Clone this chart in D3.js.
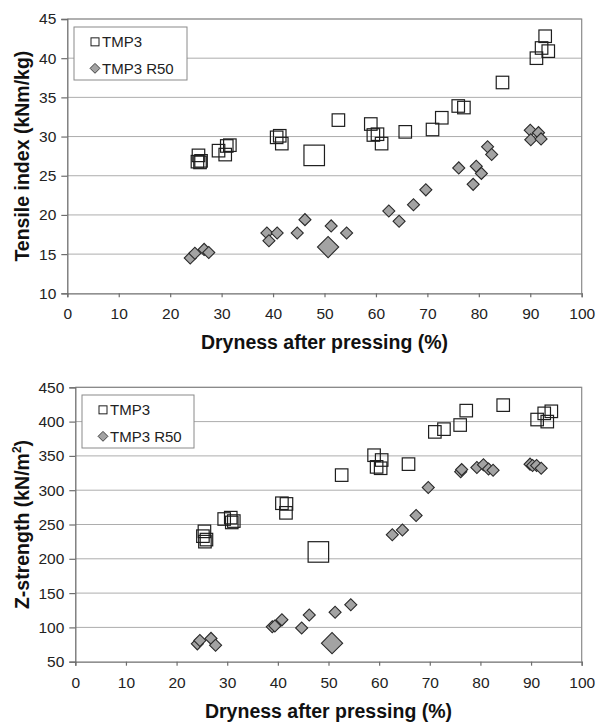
<!DOCTYPE html>
<html>
<head>
<meta charset="utf-8">
<script src="https://cdn.jsdelivr.net/npm/d3@7"></script>
<style>
  html, body { margin: 0; padding: 0; background: #fff; }
  svg { display: block; font-family: "Liberation Sans", Arial, sans-serif; }
</style>
</head>
<body>
<svg id="chart" width="596" height="723"></svg>
<script>
// Dryness after pressing (%) vs. tensile index and Z-strength, TMP3 and TMP3 R50 pulps.

// TMP3 samples: dryness, tensile index, Z-strength
const tmp3Dryness = [25.3, 25.5, 25.8, 26.0, 29.4, 30.7, 31.0, 31.6, 40.7, 41.3, 41.7, 52.7, 59.0, 59.5, 60.3, 61.1, 65.7, 71.0, 72.8, 76.0, 77.1, 84.6, 91.2, 92.2, 92.9, 93.5];
const tmp3Tensile = [26.8, 27.6, 26.7, 26.9, 28.2, 27.7, 28.8, 28.9, 29.9, 30.1, 29.1, 32.1, 31.6, 30.2, 30.3, 29.1, 30.6, 30.9, 32.4, 33.9, 33.7, 36.9, 40.0, 41.3, 42.8, 40.9];
const tmp3ZDryness = [25.2, 25.5, 25.6, 25.9, 29.4, 30.7, 31.3, 30.9, 40.8, 41.7, 41.6, 52.6, 59.0, 59.5, 60.5, 60.3, 65.8, 71.0, 72.8, 76.0, 77.2, 84.5, 91.2, 92.6, 94.0, 93.2];
const tmp3ZStrength = [233, 240, 225, 228, 258, 260, 255, 253, 281, 280, 267, 322, 351, 334, 344, 332, 338, 385, 389, 395, 416, 424, 403, 412, 415, 400];

// TMP3 reference point (large marker)
const tmp3RefDryness = [48.0];
const tmp3RefTensile = [27.6];
const tmp3RefZ = [210];

// TMP3 R50 samples
const r50Dryness = [23.9, 24.8, 26.6, 27.5, 38.8, 39.2, 40.8, 44.7, 46.2, 51.3, 54.3, 62.5, 64.5, 67.3, 69.7, 76.1, 78.9, 79.5, 80.5, 81.7, 82.5, 90.0, 90.1, 91.6, 92.1];
const r50Tensile = [14.5, 15.1, 15.6, 15.2, 17.7, 16.7, 17.7, 17.7, 19.4, 18.6, 17.7, 20.5, 19.2, 21.3, 23.2, 26.0, 23.9, 26.2, 25.3, 28.7, 27.7, 30.8, 29.6, 30.5, 29.7];
const r50ZDryness = [24.1, 24.6, 26.8, 27.7, 38.9, 39.4, 40.8, 44.7, 46.2, 51.3, 54.4, 62.6, 64.6, 67.3, 69.7, 76.1, 76.3, 79.3, 80.6, 81.6, 82.5, 89.8, 90.3, 91.1, 92.0];
const r50ZStrength = [76, 81, 84, 74, 101, 102, 111, 99, 118, 122, 133, 235, 242, 263, 304, 327, 330, 333, 337, 331, 329, 338, 336, 336, 332];

// TMP3 R50 reference point (large marker)
const r50RefDryness = [50.7];
const r50RefTensile = [15.9];
const r50RefZ = [77];

const xTicks = [0, 10, 20, 30, 40, 50, 60, 70, 80, 90, 100];
const tensileTicks = [10, 15, 20, 25, 30, 35, 40, 45];
const zTicks = [50, 100, 150, 200, 250, 300, 350, 400, 450];
const seriesNames = ["TMP3", "TMP3 R50"];

const svg = d3.select("#chart");

function drawPanel(cfg) {
  const { left, right, top, bottom, yDomain, yTicks, yTitle, superscript, tmp3, tmp3Ref, r50, r50Ref, legend } = cfg;
  const g = svg.append("g");
  const x = d3.scaleLinear().domain([0, 100]).range([left, right]);
  const y = d3.scaleLinear().domain(yDomain).range([bottom, top]);

  // grid lines
  g.append("g").selectAll("line")
    .data(yTicks.slice(1))
    .join("line")
    .attr("x1", left).attr("x2", right)
    .attr("y1", d => y(d)).attr("y2", d => y(d))
    .attr("stroke", "#adadad").attr("stroke-width", 1);

  // plot frame (top and right)
  g.append("path")
    .attr("d", `M${left},${top}H${right}V${bottom}`)
    .attr("fill", "none").attr("stroke", "#8a8a8a").attr("stroke-width", 1.2);

  // axes
  const yAxis = g.append("g")
    .attr("transform", `translate(${left},0)`)
    .call(d3.axisLeft(y).tickValues(yTicks).tickSize(6).tickPadding(5).tickFormat(d3.format("d")));
  const xAxis = g.append("g")
    .attr("transform", `translate(0,${bottom})`)
    .call(d3.axisBottom(x).tickValues(xTicks).tickSize(4).tickPadding(11).tickFormat(d3.format("d")));
  [yAxis, xAxis].forEach(a => {
    a.select(".domain").attr("stroke", "#6e6e6e").attr("stroke-width", 1.3);
    a.selectAll(".tick line").attr("stroke", "#6e6e6e").attr("stroke-width", 1.2);
    a.selectAll(".tick text").attr("font-size", 15.5).attr("fill", "#222")
      .attr("font-family", "'Liberation Sans', Arial, sans-serif");
  });

  // axis titles
  g.append("text")
    .attr("x", (left + right) / 2).attr("y", bottom + 56)
    .attr("text-anchor", "middle")
    .attr("font-size", 19.5).attr("font-weight", "bold").attr("fill", "#111")
    .text("Dryness after pressing (%)");
  const yt = g.append("text")
    .attr("transform", `translate(29,${(top + bottom) / 2}) rotate(-90)`)
    .attr("text-anchor", "middle")
    .attr("font-size", 19.5).attr("font-weight", "bold").attr("fill", "#111");
  if (superscript) {
    yt.append("tspan").text(yTitle[0]);
    yt.append("tspan").text(yTitle[1]).attr("font-size", 12).attr("dy", -8);
    yt.append("tspan").text(yTitle[2]).attr("dy", 8);
  } else {
    yt.text(yTitle);
  }

  // markers
  const squareSmall = 12.5, squareBig = 20.5;
  const diamondSmall = 8.5, diamondBig = 15;
  function squares(xs, ys, s) {
    g.append("g").selectAll("rect")
      .data(xs.map((d, i) => [d, ys[i]]))
      .join("rect")
      .attr("x", d => x(d[0]) - s / 2).attr("y", d => y(d[1]) - s / 2)
      .attr("width", s).attr("height", s)
      .attr("fill", "none").attr("stroke", "#1e1e1e").attr("stroke-width", 1.2);
  }
  function diamonds(xs, ys, s) {
    g.append("g").selectAll("rect")
      .data(xs.map((d, i) => [d, ys[i]]))
      .join("rect")
      .attr("x", -s / 2).attr("y", -s / 2)
      .attr("width", s).attr("height", s)
      .attr("transform", d => `translate(${x(d[0])},${y(d[1])}) rotate(45)`)
      .attr("fill", "#a3a3a3").attr("stroke", "#2a2a2a").attr("stroke-width", 1.1);
  }
  squares(tmp3[0], tmp3[1], squareSmall);
  squares(tmp3Ref[0], tmp3Ref[1], squareBig);
  diamonds(r50[0], r50[1], diamondSmall);
  diamonds(r50Ref[0], r50Ref[1], diamondBig);

  // legend
  const lg = g.append("g");
  lg.append("rect")
    .attr("x", legend.x).attr("y", legend.y)
    .attr("width", legend.w).attr("height", legend.h)
    .attr("fill", "#fff").attr("stroke", "#8a8a8a").attr("stroke-width", 1);
  const rowY = [legend.y + legend.h * 0.28, legend.y + legend.h * 0.78];
  lg.append("rect")
    .attr("x", legend.x + 17).attr("y", rowY[0] - 4).attr("width", 8).attr("height", 8)
    .attr("fill", "none").attr("stroke", "#1e1e1e").attr("stroke-width", 1);
  lg.append("rect")
    .attr("x", -3.5).attr("y", -3.5).attr("width", 7).attr("height", 7)
    .attr("transform", `translate(${legend.x + 21},${rowY[1]}) rotate(45)`)
    .attr("fill", "#a3a3a3").attr("stroke", "#2a2a2a").attr("stroke-width", 0.8);
  lg.selectAll("text.lab")
    .data(seriesNames)
    .join("text")
    .attr("class", "lab")
    .attr("x", legend.x + 28).attr("y", (d, i) => rowY[i])
    .attr("dy", "0.35em")
    .attr("font-size", 15).attr("fill", "#222")
    .text(d => d);
}

drawPanel({
  left: 67.3, right: 581.7, top: 19, bottom: 293.3,
  yDomain: [10, 45], yTicks: tensileTicks, yTitle: "Tensile index (kNm/kg)",
  tmp3: [tmp3Dryness, tmp3Tensile], tmp3Ref: [tmp3RefDryness, tmp3RefTensile],
  r50: [r50Dryness, r50Tensile], r50Ref: [r50RefDryness, r50RefTensile],
  legend: { x: 74, y: 27, w: 113, h: 53 }
});

drawPanel({
  left: 75.3, right: 581.7, top: 387.3, bottom: 661.7,
  yDomain: [50, 450], yTicks: zTicks, yTitle: ["Z-strength (kN/m", "2", ")"], superscript: true,
  tmp3: [tmp3ZDryness, tmp3ZStrength], tmp3Ref: [tmp3RefDryness, tmp3RefZ],
  r50: [r50ZDryness, r50ZStrength], r50Ref: [r50RefDryness, r50RefZ],
  legend: { x: 82, y: 395, w: 112, h: 53 }
});
</script>
</body>
</html>
